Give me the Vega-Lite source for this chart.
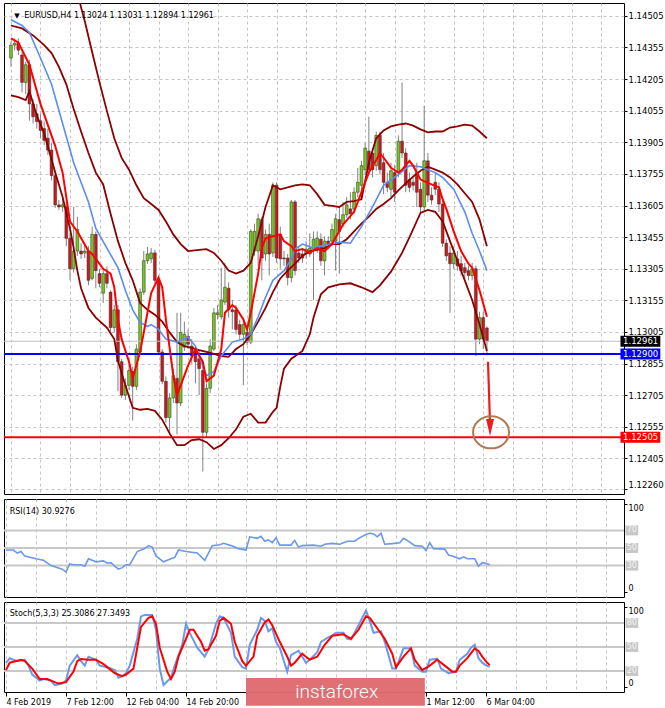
{
  "$schema": "https://vega.github.io/schema/vega-lite/v6.json",
  "background": "#ffffff",
  "padding": {"left": 1, "top": 2, "right": 0, "bottom": 0},
  "spacing": 3,
  "config": {
    "view": {"stroke": "#000000", "strokeWidth": 1},
    "axis": {"labelFont": "DejaVu Sans", "labelFontSize": 8.5, "labelColor": "#000000", "tickColor": "#000000", "domain": false, "gridColor": "#c4c4c4", "gridDash": [3, 3], "gridWidth": 1, "labelOverlap": false},
    "text": {"font": "DejaVu Sans", "fontSize": 8, "color": "#000000"}
  },
  "datasets": {
    "bars": [
      {"i":0,"o":1.14305,"h":1.14384,"l":1.14263,"c":1.14366},
      {"i":1,"o":1.14366,"h":1.14398,"l":1.14342,"c":1.14375},
      {"i":2,"o":1.14375,"h":1.14398,"l":1.14319,"c":1.14342},
      {"i":3,"o":1.14319,"h":1.14333,"l":1.14142,"c":1.14189},
      {"i":4,"o":1.14189,"h":1.14286,"l":1.14133,"c":1.14273},
      {"i":5,"o":1.14273,"h":1.14296,"l":1.14007,"c":1.14087},
      {"i":6,"o":1.14087,"h":1.14110,"l":1.13994,"c":1.14026},
      {"i":7,"o":1.14040,"h":1.14087,"l":1.13970,"c":1.14003},
      {"i":8,"o":1.14007,"h":1.14040,"l":1.13924,"c":1.13961},
      {"i":9,"o":1.13970,"h":1.14003,"l":1.13891,"c":1.13914},
      {"i":10,"o":1.13924,"h":1.13970,"l":1.13845,"c":1.13868},
      {"i":11,"o":1.13868,"h":1.13901,"l":1.13724,"c":1.13747},
      {"i":12,"o":1.13747,"h":1.13761,"l":1.13594,"c":1.13608},
      {"i":13,"o":1.13608,"h":1.13631,"l":1.13584,"c":1.13598},
      {"i":14,"o":1.13598,"h":1.13640,"l":1.13575,"c":1.13608},
      {"i":15,"o":1.13598,"h":1.13622,"l":1.13412,"c":1.13449},
      {"i":16,"o":1.13449,"h":1.13473,"l":1.13250,"c":1.13305},
      {"i":17,"o":1.13305,"h":1.13598,"l":1.13287,"c":1.13389},
      {"i":18,"o":1.13389,"h":1.13552,"l":1.13366,"c":1.13491},
      {"i":19,"o":1.13389,"h":1.13426,"l":1.13352,"c":1.13375},
      {"i":20,"o":1.13380,"h":1.13412,"l":1.13356,"c":1.13389},
      {"i":21,"o":1.13389,"h":1.13412,"l":1.13226,"c":1.13250},
      {"i":22,"o":1.13259,"h":1.13505,"l":1.13250,"c":1.13468},
      {"i":23,"o":1.13468,"h":1.13482,"l":1.13212,"c":1.13296},
      {"i":24,"o":1.13282,"h":1.13305,"l":1.13217,"c":1.13236},
      {"i":25,"o":1.13189,"h":1.13305,"l":1.13143,"c":1.13282},
      {"i":26,"o":1.13282,"h":1.13315,"l":1.13212,"c":1.13236},
      {"i":27,"o":1.13194,"h":1.13203,"l":1.13008,"c":1.13026},
      {"i":28,"o":1.13026,"h":1.13133,"l":1.13003,"c":1.13110},
      {"i":29,"o":1.13110,"h":1.13133,"l":1.12724,"c":1.12864},
      {"i":30,"o":1.12864,"h":1.12878,"l":1.12692,"c":1.12705},
      {"i":31,"o":1.12705,"h":1.12785,"l":1.12682,"c":1.12752},
      {"i":32,"o":1.12752,"h":1.12854,"l":1.12729,"c":1.12822},
      {"i":33,"o":1.12817,"h":1.12840,"l":1.12585,"c":1.12747},
      {"i":34,"o":1.12747,"h":1.12947,"l":1.12729,"c":1.12924},
      {"i":35,"o":1.12910,"h":1.13212,"l":1.12896,"c":1.13194},
      {"i":36,"o":1.13194,"h":1.13389,"l":1.13180,"c":1.13343},
      {"i":37,"o":1.13343,"h":1.13408,"l":1.13329,"c":1.13375},
      {"i":38,"o":1.13352,"h":1.13403,"l":1.13333,"c":1.13380},
      {"i":39,"o":1.13380,"h":1.13394,"l":1.13236,"c":1.13250},
      {"i":40,"o":1.13250,"h":1.13263,"l":1.12896,"c":1.12910},
      {"i":41,"o":1.12910,"h":1.12924,"l":1.12757,"c":1.12771},
      {"i":42,"o":1.12771,"h":1.12794,"l":1.12575,"c":1.12599},
      {"i":43,"o":1.12599,"h":1.12715,"l":1.12519,"c":1.12692},
      {"i":44,"o":1.12692,"h":1.12831,"l":1.12668,"c":1.12798},
      {"i":45,"o":1.12785,"h":1.13096,"l":1.12519,"c":1.12668},
      {"i":46,"o":1.12668,"h":1.13096,"l":1.12654,"c":1.13003},
      {"i":47,"o":1.12933,"h":1.13054,"l":1.12915,"c":1.12994},
      {"i":48,"o":1.12984,"h":1.13017,"l":1.12924,"c":1.12947},
      {"i":49,"o":1.12938,"h":1.12971,"l":1.12854,"c":1.12891},
      {"i":50,"o":1.12910,"h":1.12933,"l":1.12761,"c":1.12864},
      {"i":51,"o":1.12878,"h":1.12915,"l":1.12705,"c":1.12831},
      {"i":52,"o":1.12822,"h":1.12840,"l":1.12343,"c":1.12529},
      {"i":53,"o":1.12529,"h":1.12761,"l":1.12506,"c":1.12738},
      {"i":54,"o":1.12738,"h":1.12971,"l":1.12715,"c":1.12938},
      {"i":55,"o":1.12924,"h":1.13119,"l":1.12915,"c":1.13096},
      {"i":56,"o":1.13087,"h":1.13133,"l":1.13064,"c":1.13096},
      {"i":57,"o":1.13077,"h":1.13310,"l":1.13064,"c":1.13157},
      {"i":58,"o":1.13147,"h":1.13333,"l":1.13133,"c":1.13217},
      {"i":59,"o":1.13212,"h":1.13240,"l":1.13073,"c":1.13110},
      {"i":60,"o":1.13110,"h":1.13157,"l":1.13017,"c":1.13101},
      {"i":61,"o":1.13110,"h":1.13133,"l":1.12994,"c":1.13017},
      {"i":62,"o":1.13040,"h":1.13064,"l":1.12971,"c":1.12994},
      {"i":63,"o":1.12994,"h":1.13073,"l":1.12752,"c":1.13040},
      {"i":64,"o":1.13003,"h":1.13026,"l":1.12943,"c":1.12957},
      {"i":65,"o":1.12957,"h":1.13491,"l":1.12947,"c":1.13482},
      {"i":66,"o":1.13389,"h":1.13519,"l":1.13366,"c":1.13482},
      {"i":67,"o":1.13389,"h":1.13566,"l":1.13319,"c":1.13542},
      {"i":68,"o":1.13538,"h":1.13552,"l":1.13250,"c":1.13356},
      {"i":69,"o":1.13375,"h":1.13491,"l":1.13343,"c":1.13468},
      {"i":70,"o":1.13468,"h":1.13519,"l":1.13273,"c":1.13375},
      {"i":71,"o":1.13380,"h":1.13715,"l":1.13361,"c":1.13701},
      {"i":72,"o":1.13701,"h":1.13715,"l":1.13333,"c":1.13356},
      {"i":73,"o":1.13468,"h":1.13505,"l":1.13305,"c":1.13352},
      {"i":74,"o":1.13356,"h":1.13389,"l":1.13319,"c":1.13352},
      {"i":75,"o":1.13356,"h":1.13375,"l":1.13226,"c":1.13263},
      {"i":76,"o":1.13263,"h":1.13631,"l":1.13240,"c":1.13622},
      {"i":77,"o":1.13622,"h":1.13631,"l":1.13273,"c":1.13296},
      {"i":78,"o":1.13380,"h":1.13412,"l":1.13333,"c":1.13356},
      {"i":79,"o":1.13375,"h":1.13403,"l":1.13333,"c":1.13356},
      {"i":80,"o":1.13375,"h":1.13436,"l":1.13352,"c":1.13398},
      {"i":81,"o":1.13375,"h":1.13473,"l":1.13361,"c":1.13403},
      {"i":82,"o":1.13398,"h":1.13482,"l":1.13157,"c":1.13445},
      {"i":83,"o":1.13403,"h":1.13482,"l":1.13380,"c":1.13449},
      {"i":84,"o":1.13445,"h":1.13473,"l":1.13319,"c":1.13343},
      {"i":85,"o":1.13343,"h":1.13459,"l":1.13273,"c":1.13436},
      {"i":86,"o":1.13436,"h":1.13459,"l":1.13398,"c":1.13422},
      {"i":87,"o":1.13436,"h":1.13519,"l":1.13412,"c":1.13491},
      {"i":88,"o":1.13436,"h":1.13566,"l":1.13296,"c":1.13542},
      {"i":89,"o":1.13538,"h":1.13598,"l":1.13282,"c":1.13482},
      {"i":90,"o":1.13519,"h":1.13622,"l":1.13501,"c":1.13561},
      {"i":91,"o":1.13561,"h":1.13645,"l":1.13547,"c":1.13608},
      {"i":92,"o":1.13589,"h":1.13668,"l":1.13538,"c":1.13566},
      {"i":93,"o":1.13589,"h":1.13691,"l":1.13566,"c":1.13668},
      {"i":94,"o":1.13668,"h":1.13784,"l":1.13645,"c":1.13715},
      {"i":95,"o":1.13701,"h":1.13817,"l":1.13645,"c":1.13794},
      {"i":96,"o":1.13775,"h":1.13901,"l":1.13752,"c":1.13877},
      {"i":97,"o":1.13863,"h":1.14026,"l":1.13752,"c":1.13775},
      {"i":98,"o":1.13854,"h":1.13877,"l":1.13738,"c":1.13775},
      {"i":99,"o":1.13794,"h":1.13956,"l":1.13770,"c":1.13938},
      {"i":100,"o":1.13938,"h":1.13956,"l":1.13752,"c":1.13775},
      {"i":101,"o":1.13808,"h":1.13854,"l":1.13659,"c":1.13715},
      {"i":102,"o":1.13715,"h":1.13761,"l":1.13668,"c":1.13691},
      {"i":103,"o":1.13682,"h":1.13808,"l":1.13645,"c":1.13770},
      {"i":104,"o":1.13761,"h":1.13798,"l":1.13622,"c":1.13668},
      {"i":105,"o":1.13761,"h":1.13938,"l":1.13738,"c":1.13910},
      {"i":106,"o":1.13910,"h":1.14189,"l":1.13831,"c":1.13854},
      {"i":107,"o":1.13854,"h":1.13877,"l":1.13668,"c":1.13701},
      {"i":108,"o":1.13728,"h":1.13761,"l":1.13668,"c":1.13691},
      {"i":109,"o":1.13715,"h":1.13738,"l":1.13677,"c":1.13701},
      {"i":110,"o":1.13761,"h":1.13808,"l":1.13598,"c":1.13668},
      {"i":111,"o":1.13682,"h":1.13715,"l":1.13566,"c":1.13598},
      {"i":112,"o":1.13598,"h":1.14077,"l":1.13575,"c":1.13817},
      {"i":113,"o":1.13817,"h":1.13854,"l":1.13622,"c":1.13654},
      {"i":114,"o":1.13654,"h":1.13691,"l":1.13608,"c":1.13631},
      {"i":115,"o":1.13715,"h":1.13761,"l":1.13654,"c":1.13682},
      {"i":116,"o":1.13682,"h":1.13715,"l":1.13575,"c":1.13612},
      {"i":117,"o":1.13612,"h":1.13631,"l":1.13408,"c":1.13426},
      {"i":118,"o":1.13426,"h":1.13445,"l":1.13343,"c":1.13366},
      {"i":119,"o":1.13380,"h":1.13412,"l":1.13096,"c":1.13329},
      {"i":120,"o":1.13329,"h":1.13412,"l":1.13305,"c":1.13380},
      {"i":121,"o":1.13352,"h":1.13389,"l":1.13296,"c":1.13319},
      {"i":122,"o":1.13329,"h":1.13366,"l":1.13273,"c":1.13296},
      {"i":123,"o":1.13310,"h":1.13333,"l":1.13259,"c":1.13287},
      {"i":124,"o":1.13296,"h":1.13319,"l":1.13250,"c":1.13273},
      {"i":125,"o":1.13273,"h":1.13333,"l":1.13250,"c":1.13305},
      {"i":126,"o":1.13305,"h":1.13319,"l":1.12891,"c":1.12971},
      {"i":127,"o":1.12971,"h":1.13101,"l":1.12947,"c":1.13073},
      {"i":128,"o":1.13073,"h":1.13101,"l":1.12924,"c":1.12971},
      {"i":129,"o":1.13024,"h":1.13031,"l":1.12894,"c":1.12961}
    ],
    "redma": [
      {"i":0,"v":1.14398},{"i":2,"v":1.14379},{"i":5,"v":1.14273},{"i":8,"v":1.14087},{"i":12,"v":1.13887},{"i":14,"v":1.13761},{"i":15,"v":1.13645},{"i":16,"v":1.13529},{"i":18,"v":1.13482},{"i":21,"v":1.13389},{"i":22,"v":1.13375},{"i":25,"v":1.13305},{"i":27,"v":1.13282},{"i":28,"v":1.13217},{"i":29,"v":1.13064},{"i":30,"v":1.12971},{"i":32,"v":1.12864},{"i":33,"v":1.12785},{"i":35,"v":1.12910},{"i":37,"v":1.13096},{"i":38,"v":1.13189},{"i":40,"v":1.13263},{"i":41,"v":1.13217},{"i":42,"v":1.13064},{"i":44,"v":1.12798},{"i":45,"v":1.12705},{"i":46,"v":1.12752},{"i":48,"v":1.12845},{"i":50,"v":1.12924},{"i":52,"v":1.12864},{"i":53,"v":1.12771},{"i":55,"v":1.12798},{"i":57,"v":1.12924},{"i":58,"v":1.13096},{"i":60,"v":1.13133},{"i":61,"v":1.13119},{"i":63,"v":1.13064},{"i":64,"v":1.13017},{"i":65,"v":1.13096},{"i":67,"v":1.13282},{"i":68,"v":1.13403},{"i":69,"v":1.13449},{"i":71,"v":1.13459},{"i":73,"v":1.13468},{"i":74,"v":1.13436},{"i":76,"v":1.13412},{"i":77,"v":1.13389},{"i":79,"v":1.13398},{"i":81,"v":1.13380},{"i":83,"v":1.13403},{"i":85,"v":1.13389},{"i":87,"v":1.13422},{"i":90,"v":1.13515},{"i":93,"v":1.13575},{"i":95,"v":1.13668},{"i":97,"v":1.13761},{"i":99,"v":1.13821},{"i":100,"v":1.13854},{"i":102,"v":1.13808},{"i":103,"v":1.13784},{"i":105,"v":1.13761},{"i":106,"v":1.13775},{"i":108,"v":1.13817},{"i":109,"v":1.13794},{"i":111,"v":1.13728},{"i":114,"v":1.13705},{"i":116,"v":1.13691},{"i":117,"v":1.13635},{"i":118,"v":1.13589},{"i":120,"v":1.13482},{"i":122,"v":1.13389},{"i":124,"v":1.13329},{"i":125,"v":1.13310},{"i":127,"v":1.13203},{"i":129,"v":1.13077}
    ],
    "bluema": [
      {"i":0,"v":1.14486},{"i":3,"v":1.14459},{"i":5,"v":1.14426},{"i":8,"v":1.14305},{"i":11,"v":1.14180},{"i":14,"v":1.13994},{"i":17,"v":1.13808},{"i":21,"v":1.13622},{"i":23,"v":1.13496},{"i":26,"v":1.13403},{"i":29,"v":1.13310},{"i":31,"v":1.13203},{"i":33,"v":1.13110},{"i":35,"v":1.13050},{"i":37,"v":1.13031},{"i":38,"v":1.13040},{"i":40,"v":1.13017},{"i":42,"v":1.12971},{"i":45,"v":1.12957},{"i":48,"v":1.12980},{"i":50,"v":1.12938},{"i":52,"v":1.12845},{"i":53,"v":1.12798},{"i":55,"v":1.12817},{"i":57,"v":1.12891},{"i":60,"v":1.12957},{"i":63,"v":1.12971},{"i":65,"v":1.12994},{"i":67,"v":1.13077},{"i":69,"v":1.13170},{"i":71,"v":1.13250},{"i":74,"v":1.13296},{"i":76,"v":1.13352},{"i":77,"v":1.13398},{"i":79,"v":1.13422},{"i":82,"v":1.13403},{"i":85,"v":1.13417},{"i":89,"v":1.13431},{"i":92,"v":1.13426},{"i":95,"v":1.13505},{"i":98,"v":1.13598},{"i":101,"v":1.13701},{"i":105,"v":1.13752},{"i":108,"v":1.13794},{"i":111,"v":1.13789},{"i":115,"v":1.13761},{"i":117,"v":1.13738},{"i":120,"v":1.13682},{"i":123,"v":1.13575},{"i":125,"v":1.13473},{"i":127,"v":1.13389},{"i":129,"v":1.13296}
    ],
    "bbu": [
      {"i":17,"v":1.14700},{"i":18,"v":1.14620},{"i":19,"v":1.14545},{"i":20,"v":1.14480},{"i":22,"v":1.14333},{"i":24,"v":1.14189},{"i":26,"v":1.14054},{"i":28,"v":1.13924},{"i":30,"v":1.13831},{"i":32,"v":1.13775},{"i":34,"v":1.13701},{"i":36,"v":1.13640},{"i":38,"v":1.13612},{"i":40,"v":1.13584},{"i":42,"v":1.13529},{"i":44,"v":1.13468},{"i":46,"v":1.13422},{"i":48,"v":1.13389},{"i":51,"v":1.13394},{"i":53,"v":1.13398},{"i":55,"v":1.13380},{"i":57,"v":1.13343},{"i":59,"v":1.13296},{"i":61,"v":1.13282},{"i":63,"v":1.13296},{"i":65,"v":1.13333},{"i":67,"v":1.13459},{"i":69,"v":1.13598},{"i":71,"v":1.13701},{"i":73,"v":1.13682},{"i":75,"v":1.13691},{"i":77,"v":1.13701},{"i":79,"v":1.13705},{"i":81,"v":1.13701},{"i":83,"v":1.13659},{"i":85,"v":1.13608},{"i":87,"v":1.13603},{"i":89,"v":1.13598},{"i":91,"v":1.13622},{"i":93,"v":1.13626},{"i":95,"v":1.13635},{"i":97,"v":1.13808},{"i":99,"v":1.13924},{"i":101,"v":1.13961},{"i":103,"v":1.13980},{"i":105,"v":1.13989},{"i":107,"v":1.13994},{"i":109,"v":1.13984},{"i":111,"v":1.13966},{"i":113,"v":1.13952},{"i":115,"v":1.13956},{"i":117,"v":1.13956},{"i":119,"v":1.13975},{"i":121,"v":1.13980},{"i":123,"v":1.13989},{"i":125,"v":1.13984},{"i":127,"v":1.13956},{"i":129,"v":1.13924}
    ],
    "bbm": [
      {"i":0,"v":1.14459},{"i":3,"v":1.14445},{"i":6,"v":1.14412},{"i":9,"v":1.14366},{"i":11,"v":1.14328},{"i":13,"v":1.14263},{"i":15,"v":1.14180},{"i":17,"v":1.14063},{"i":19,"v":1.13956},{"i":21,"v":1.13854},{"i":23,"v":1.13761},{"i":25,"v":1.13705},{"i":27,"v":1.13566},{"i":29,"v":1.13436},{"i":31,"v":1.13333},{"i":33,"v":1.13250},{"i":35,"v":1.13143},{"i":37,"v":1.13110},{"i":39,"v":1.13087},{"i":41,"v":1.13054},{"i":43,"v":1.13003},{"i":45,"v":1.12957},{"i":47,"v":1.12938},{"i":49,"v":1.12929},{"i":51,"v":1.12919},{"i":53,"v":1.12910},{"i":55,"v":1.12901},{"i":57,"v":1.12891},{"i":59,"v":1.12887},{"i":61,"v":1.12924},{"i":63,"v":1.12947},{"i":65,"v":1.12994},{"i":67,"v":1.13054},{"i":69,"v":1.13119},{"i":71,"v":1.13194},{"i":73,"v":1.13259},{"i":75,"v":1.13296},{"i":77,"v":1.13329},{"i":79,"v":1.13366},{"i":81,"v":1.13389},{"i":83,"v":1.13394},{"i":85,"v":1.13403},{"i":87,"v":1.13422},{"i":89,"v":1.13422},{"i":91,"v":1.13445},{"i":93,"v":1.13482},{"i":95,"v":1.13519},{"i":97,"v":1.13552},{"i":99,"v":1.13589},{"i":101,"v":1.13612},{"i":103,"v":1.13640},{"i":105,"v":1.13677},{"i":107,"v":1.13710},{"i":109,"v":1.13742},{"i":111,"v":1.13770},{"i":113,"v":1.13789},{"i":115,"v":1.13775},{"i":117,"v":1.13761},{"i":119,"v":1.13738},{"i":121,"v":1.13705},{"i":123,"v":1.13663},{"i":125,"v":1.13622},{"i":127,"v":1.13538},{"i":129,"v":1.13412}
    ],
    "bbl": [
      {"i":0,"v":1.14128},{"i":2,"v":1.14119},{"i":4,"v":1.14105},{"i":5,"v":1.14147},{"i":7,"v":1.14031},{"i":9,"v":1.13947},{"i":12,"v":1.13761},{"i":14,"v":1.13645},{"i":16,"v":1.13496},{"i":17,"v":1.13403},{"i":18,"v":1.13296},{"i":19,"v":1.13212},{"i":21,"v":1.13119},{"i":23,"v":1.13073},{"i":26,"v":1.13026},{"i":28,"v":1.12971},{"i":29,"v":1.12868},{"i":31,"v":1.12752},{"i":33,"v":1.12645},{"i":35,"v":1.12636},{"i":37,"v":1.12640},{"i":39,"v":1.12631},{"i":41,"v":1.12589},{"i":43,"v":1.12524},{"i":45,"v":1.12468},{"i":47,"v":1.12468},{"i":49,"v":1.12492},{"i":51,"v":1.12496},{"i":53,"v":1.12482},{"i":55,"v":1.12450},{"i":57,"v":1.12468},{"i":59,"v":1.12501},{"i":61,"v":1.12543},{"i":63,"v":1.12603},{"i":65,"v":1.12617},{"i":67,"v":1.12575},{"i":69,"v":1.12575},{"i":71,"v":1.12626},{"i":72,"v":1.12645},{"i":73,"v":1.12747},{"i":74,"v":1.12831},{"i":76,"v":1.12878},{"i":79,"v":1.12915},{"i":81,"v":1.12994},{"i":82,"v":1.13073},{"i":84,"v":1.13184},{"i":86,"v":1.13217},{"i":89,"v":1.13231},{"i":92,"v":1.13236},{"i":95,"v":1.13217},{"i":98,"v":1.13194},{"i":100,"v":1.13226},{"i":103,"v":1.13291},{"i":106,"v":1.13380},{"i":108,"v":1.13454},{"i":111,"v":1.13570},{"i":113,"v":1.13584},{"i":115,"v":1.13575},{"i":117,"v":1.13529},{"i":119,"v":1.13436},{"i":121,"v":1.13343},{"i":123,"v":1.13250},{"i":125,"v":1.13157},{"i":127,"v":1.13040},{"i":129,"v":1.12915}
    ],
    "tags": [
      {"kind":"bid","v":1.12961},
      {"kind":"level","v":1.12900},
      {"kind":"target","v":1.12505}
    ],
    "arrow": [
      {"i":129.3,"v":1.12864},
      {"i":129.8,"v":1.12589}
    ],
    "rsi": [
      {"i":0,"v":47.7},{"i":2,"v":47.7},{"i":3,"v":44.3},{"i":4,"v":46},{"i":5,"v":41},{"i":8,"v":37.7},{"i":10,"v":36},{"i":12,"v":30},{"i":13,"v":28.7},{"i":15,"v":26},{"i":16,"v":22.7},{"i":17,"v":32},{"i":18,"v":31},{"i":20,"v":31},{"i":21,"v":29.3},{"i":22,"v":37.7},{"i":24,"v":34.3},{"i":26,"v":35.3},{"i":27,"v":32.7},{"i":28,"v":33.3},{"i":29,"v":29.3},{"i":30,"v":26},{"i":31,"v":27.7},{"i":32,"v":31},{"i":33,"v":31},{"i":35,"v":46},{"i":37,"v":49.3},{"i":38,"v":52.7},{"i":39,"v":51},{"i":40,"v":41},{"i":42,"v":34.3},{"i":44,"v":37.7},{"i":45,"v":39.3},{"i":46,"v":47.7},{"i":48,"v":46},{"i":51,"v":44.3},{"i":53,"v":36},{"i":55,"v":52.7},{"i":57,"v":53.7},{"i":58,"v":55.3},{"i":60,"v":52.7},{"i":62,"v":49.3},{"i":64,"v":47.7},{"i":65,"v":62.7},{"i":67,"v":61},{"i":68,"v":63.3},{"i":69,"v":57.7},{"i":70,"v":59.3},{"i":71,"v":56},{"i":72,"v":61.7},{"i":73,"v":53.3},{"i":76,"v":53.3},{"i":77,"v":58.7},{"i":78,"v":51},{"i":79,"v":52.7},{"i":82,"v":53.3},{"i":84,"v":52},{"i":85,"v":54.3},{"i":87,"v":55.3},{"i":89,"v":54.3},{"i":91,"v":57.7},{"i":93,"v":57.7},{"i":94,"v":61},{"i":96,"v":65.3},{"i":97,"v":66.7},{"i":98,"v":66},{"i":99,"v":62.7},{"i":100,"v":66.7},{"i":101,"v":54.3},{"i":103,"v":55},{"i":105,"v":56},{"i":106,"v":61},{"i":107,"v":58.7},{"i":109,"v":52.7},{"i":111,"v":52},{"i":112,"v":47},{"i":113,"v":56},{"i":114,"v":49.3},{"i":117,"v":48.7},{"i":118,"v":42},{"i":119,"v":41},{"i":121,"v":37.7},{"i":122,"v":40},{"i":123,"v":37.7},{"i":125,"v":37.7},{"i":126,"v":29.3},{"i":127,"v":33.3},{"i":128,"v":32.5},{"i":129,"v":30.9}
    ],
    "rsilev": [{"v":30},{"v":50},{"v":70}],
    "stolev": [{"v":20},{"v":50},{"v":80}],
    "stk": [
      {"i":0,"v":30},{"i":1,"v":36},{"i":3,"v":32.3},{"i":5,"v":34.1},{"i":6,"v":26.7},{"i":7,"v":15.5},{"i":9,"v":8},{"i":10,"v":9.9},{"i":12,"v":8},{"i":13,"v":2.4},{"i":15,"v":4.3},{"i":16,"v":8},{"i":17,"v":26.7},{"i":19,"v":39.7},{"i":20,"v":32.3},{"i":21,"v":26.7},{"i":22,"v":37.9},{"i":24,"v":34.1},{"i":25,"v":26.7},{"i":27,"v":24.8},{"i":29,"v":21.1},{"i":30,"v":11.7},{"i":31,"v":13.6},{"i":32,"v":17.3},{"i":33,"v":26.7},{"i":35,"v":60.3},{"i":36,"v":88.3},{"i":37,"v":90.1},{"i":39,"v":90.1},{"i":40,"v":71.5},{"i":41,"v":23},{"i":42,"v":2.4},{"i":44,"v":11.7},{"i":45,"v":26.7},{"i":47,"v":52.8},{"i":48,"v":79},{"i":49,"v":67.7},{"i":51,"v":49.1},{"i":53,"v":37.9},{"i":54,"v":47.2},{"i":56,"v":79},{"i":57,"v":88.3},{"i":58,"v":86.4},{"i":60,"v":67.7},{"i":61,"v":37.9},{"i":63,"v":24.8},{"i":64,"v":23},{"i":65,"v":52.8},{"i":67,"v":71.5},{"i":68,"v":86.4},{"i":69,"v":82.7},{"i":70,"v":69.6},{"i":71,"v":73.4},{"i":72,"v":56.5},{"i":73,"v":49.1},{"i":75,"v":19.2},{"i":76,"v":39.7},{"i":78,"v":45.3},{"i":80,"v":30.4},{"i":81,"v":34.1},{"i":83,"v":43.5},{"i":84,"v":56.5},{"i":86,"v":62.2},{"i":87,"v":64},{"i":88,"v":67.7},{"i":90,"v":67.7},{"i":91,"v":60.3},{"i":92,"v":59.5},{"i":94,"v":77.1},{"i":96,"v":95.7},{"i":97,"v":82.7},{"i":98,"v":67.7},{"i":100,"v":69.6},{"i":101,"v":56.5},{"i":103,"v":23},{"i":104,"v":23},{"i":106,"v":48.3},{"i":108,"v":48.3},{"i":109,"v":26.7},{"i":111,"v":19.2},{"i":112,"v":19.2},{"i":113,"v":34.1},{"i":115,"v":35.3},{"i":116,"v":23},{"i":118,"v":17.3},{"i":120,"v":19.2},{"i":121,"v":34.1},{"i":123,"v":41.6},{"i":124,"v":49.1},{"i":125,"v":52.8},{"i":126,"v":36},{"i":127,"v":30.4},{"i":128,"v":27},{"i":129,"v":25.3}
    ],
    "std": [
      {"i":0,"v":21.1},{"i":1,"v":30.4},{"i":4,"v":34.1},{"i":5,"v":32.3},{"i":7,"v":23},{"i":9,"v":9.9},{"i":11,"v":9.9},{"i":12,"v":8},{"i":14,"v":4.3},{"i":16,"v":6.1},{"i":18,"v":19.2},{"i":19,"v":32.3},{"i":20,"v":34.9},{"i":22,"v":34.1},{"i":24,"v":34.1},{"i":26,"v":28.5},{"i":28,"v":21.1},{"i":29,"v":17.3},{"i":31,"v":13.6},{"i":32,"v":15.5},{"i":34,"v":23},{"i":35,"v":49.1},{"i":36,"v":75.2},{"i":38,"v":86.4},{"i":39,"v":88.3},{"i":40,"v":79},{"i":41,"v":49.1},{"i":43,"v":19.2},{"i":44,"v":9.9},{"i":45,"v":19.2},{"i":46,"v":37.9},{"i":48,"v":60.3},{"i":49,"v":71.5},{"i":50,"v":71.5},{"i":52,"v":56.5},{"i":53,"v":45.3},{"i":54,"v":47.2},{"i":56,"v":64},{"i":57,"v":82.7},{"i":58,"v":86.4},{"i":60,"v":79},{"i":61,"v":56.5},{"i":63,"v":32.3},{"i":64,"v":26.7},{"i":66,"v":37.9},{"i":67,"v":64},{"i":69,"v":80.8},{"i":70,"v":84.5},{"i":71,"v":77.1},{"i":73,"v":56.5},{"i":75,"v":37.9},{"i":76,"v":26.7},{"i":77,"v":30.4},{"i":79,"v":41.6},{"i":80,"v":37.9},{"i":81,"v":34.1},{"i":83,"v":37.9},{"i":85,"v":52.8},{"i":87,"v":64},{"i":90,"v":65.9},{"i":92,"v":60.3},{"i":94,"v":71.5},{"i":96,"v":88.3},{"i":97,"v":86.4},{"i":99,"v":73.4},{"i":101,"v":60.3},{"i":103,"v":41.6},{"i":104,"v":24.8},{"i":106,"v":37.9},{"i":108,"v":48.3},{"i":109,"v":34.1},{"i":111,"v":21.1},{"i":113,"v":26.7},{"i":115,"v":34.1},{"i":117,"v":26.7},{"i":119,"v":19.2},{"i":120,"v":19.2},{"i":121,"v":26.7},{"i":123,"v":36},{"i":125,"v":48.3},{"i":126,"v":45},{"i":127,"v":38},{"i":128,"v":32},{"i":129,"v":27.3}
    ]
  },
  "vconcat": [
    {
      "width": 620,
      "height": 491,
      "layer": [
        {
          "data": {"name": "bars"},
          "mark": {"type": "rule", "color": "#808080", "strokeWidth": 1},
          "encoding": {
            "x": {"field": "i", "type": "quantitative", "scale": {"domain": [-0.53, 164.8], "nice": false, "zero": false},
                  "axis": {"values": [0,8,16,24,32,40,48,56,64,72,80,88,96,104,112,120,128,136,144,152,160], "tickCount": 100, "grid": true, "labels": false, "ticks": false, "title": null}},
            "y": {"field": "l", "type": "quantitative", "scale": {"domain": [1.1226, 1.14542], "nice": false, "zero": false},
                  "axis": {"orient": "right", "values": [1.14505,1.14355,1.14205,1.14055,1.13905,1.13755,1.13605,1.13455,1.13305,1.13155,1.13005,1.12855,1.12705,1.12555,1.12405,1.1226], "tickCount": 100, "format": ".5f", "grid": true, "tickSize": 3, "labelPadding": 1, "labelFlush": false, "labelOverlap": false, "title": null,
                           "labelBaseline": {"condition": {"test": "datum.value < 1.1227", "value": "bottom"}, "value": "middle"}}},
            "y2": {"field": "h"}
          }
        },
        {
          "data": {"name": "bars"},
          "mark": {"type": "bar", "size": 2.8, "stroke": "#2a2a2a", "strokeWidth": 0.5},
          "encoding": {
            "x": {"field": "i", "type": "quantitative"},
            "y": {"field": "o", "type": "quantitative"},
            "y2": {"field": "c"},
            "fill": {"condition": {"test": "datum.c >= datum.o", "value": "#76c81c"}, "value": "#d01818"}
          }
        },
        {
          "data": {"values": [{}]},
          "mark": {"type": "rule", "color": "#c0c0c0", "strokeWidth": 1},
          "encoding": {"y": {"datum": 1.12961}}
        },
        {
          "data": {"values": [{}]},
          "mark": {"type": "rule", "color": "#0000ff", "strokeWidth": 2},
          "encoding": {"y": {"datum": 1.129}}
        },
        {
          "data": {"values": [{}]},
          "mark": {"type": "rule", "color": "#ff0000", "strokeWidth": 2},
          "encoding": {"y": {"datum": 1.12505}}
        },
        {
          "data": {"name": "bbu"},
          "mark": {"type": "line", "color": "#8b0000", "strokeWidth": 1.8, "clip": true},
          "encoding": {"x": {"field": "i", "type": "quantitative"}, "y": {"field": "v", "type": "quantitative"}}
        },
        {
          "data": {"name": "bbm"},
          "mark": {"type": "line", "color": "#8b0000", "strokeWidth": 1.8, "clip": true},
          "encoding": {"x": {"field": "i", "type": "quantitative"}, "y": {"field": "v", "type": "quantitative"}}
        },
        {
          "data": {"name": "bbl"},
          "mark": {"type": "line", "color": "#8b0000", "strokeWidth": 1.8, "clip": true},
          "encoding": {"x": {"field": "i", "type": "quantitative"}, "y": {"field": "v", "type": "quantitative"}}
        },
        {
          "data": {"name": "bluema"},
          "mark": {"type": "line", "color": "#5b8def", "strokeWidth": 1.6, "clip": true},
          "encoding": {"x": {"field": "i", "type": "quantitative"}, "y": {"field": "v", "type": "quantitative"}}
        },
        {
          "data": {"name": "redma"},
          "mark": {"type": "line", "color": "#ff0000", "strokeWidth": 2, "clip": true},
          "encoding": {"x": {"field": "i", "type": "quantitative"}, "y": {"field": "v", "type": "quantitative"}}
        },
        {
          "data": {"name": "arrow"},
          "mark": {"type": "line", "color": "#ee1c1c", "strokeWidth": 2.2},
          "encoding": {"x": {"field": "i", "type": "quantitative"}, "y": {"field": "v", "type": "quantitative"}}
        },
        {
          "data": {"values": [{}]},
          "mark": {"type": "point", "shape": "M-0.47,-1L0.47,-1L0,1Z", "size": 289, "filled": true, "opacity": 1, "color": "#ee1c1c"},
          "encoding": {"x": {"datum": 129.85}, "y": {"datum": 1.12552}}
        },
        {
          "data": {"values": [{}]},
          "mark": {"type": "point", "shape": "M-1,0A1,0.89,0,1,0,1,0A1,0.89,0,1,0,-1,0Z", "size": 1296, "filled": false, "opacity": 1, "color": "#b5784e", "strokeWidth": 2},
          "encoding": {"x": {"datum": 130.13}, "y": {"datum": 1.12529}}
        },
        {
          "data": {"name": "tags"},
          "mark": {"type": "bar", "orient": "horizontal", "size": 11},
          "encoding": {
            "x": {"datum": 165.2},
            "x2": {"datum": 176},
            "y": {"field": "v", "type": "quantitative"},
            "color": {"field": "kind", "type": "nominal", "scale": {"domain": ["bid", "level", "target"], "range": ["#000000", "#0000ff", "#ff0000"]}, "legend": null}
          }
        },
        {
          "data": {"name": "tags"},
          "mark": {"type": "text", "align": "left", "baseline": "middle", "color": "#ffffff", "fontSize": 8.5},
          "encoding": {
            "x": {"datum": 165.9},
            "y": {"field": "v", "type": "quantitative"},
            "text": {"field": "v", "type": "quantitative", "format": ".5f"}
          }
        },
        {
          "data": {"values": [{}]},
          "mark": {"type": "text", "align": "center", "baseline": "middle", "fontSize": 7},
          "encoding": {"x": {"datum": 1.6}, "y": {"datum": 1.14505}, "text": {"value": "▼"}}
        },
        {
          "data": {"values": [{}]},
          "mark": {"type": "text", "align": "left", "baseline": "middle", "fontSize": 8},
          "encoding": {"x": {"datum": 3.6}, "y": {"datum": 1.14505}, "text": {"value": "EURUSD,H4  1.13024 1.13031 1.12894 1.12961"}}
        }
      ]
    },
    {
      "width": 620,
      "height": 98,
      "layer": [
        {
          "data": {"name": "rsilev"},
          "mark": {"type": "rule", "color": "#c8c8c8", "strokeWidth": 2},
          "encoding": {
            "y": {"field": "v", "type": "quantitative", "scale": {"domain": [0, 100], "nice": false},
                  "axis": {"orient": "right", "values": [0, 100], "tickCount": 10, "grid": false, "tickSize": 3, "labelPadding": 1, "labelFlush": false, "labelOverlap": false, "title": null, "labelFontSize": 8,
                           "labelBaseline": {"condition": {"test": "datum.value > 50", "value": "top"}, "value": "bottom"}}}
          }
        },
        {
          "data": {"name": "rsilev"},
          "mark": {"type": "bar", "orient": "horizontal", "size": 10, "color": "#c8c8c8"},
          "encoding": {"x": {"datum": 165.2}, "x2": {"datum": 168.6}, "y": {"field": "v", "type": "quantitative"}}
        },
        {
          "data": {"name": "rsilev"},
          "mark": {"type": "text", "align": "left", "baseline": "middle", "color": "#f4f4f4", "fontSize": 8},
          "encoding": {"x": {"datum": 165.5}, "y": {"field": "v", "type": "quantitative"}, "text": {"field": "v", "type": "quantitative"}}
        },
        {
          "data": {"name": "rsi"},
          "mark": {"type": "line", "color": "#6a98ea", "strokeWidth": 1.6},
          "encoding": {
            "x": {"field": "i", "type": "quantitative", "scale": {"domain": [-0.53, 164.8], "nice": false, "zero": false},
                  "axis": {"values": [0,8,16,24,32,40,48,56,64,72,80,88,96,104,112,120,128,136,144,152,160], "tickCount": 100, "grid": true, "labels": false, "ticks": false, "title": null}},
            "y": {"field": "v", "type": "quantitative"}
          }
        },
        {
          "data": {"values": [{}]},
          "mark": {"type": "text", "align": "left", "baseline": "middle", "fontSize": 8},
          "encoding": {"x": {"datum": 1.0}, "y": {"datum": 91}, "text": {"value": "RSI(14) 30.9276"}}
        }
      ]
    },
    {
      "width": 620,
      "height": 90,
      "layer": [
        {
          "data": {"name": "stolev"},
          "mark": {"type": "rule", "color": "#c8c8c8", "strokeWidth": 2},
          "encoding": {
            "y": {"field": "v", "type": "quantitative", "scale": {"domain": [0, 100], "nice": false},
                  "axis": {"orient": "right", "values": [0, 100], "tickCount": 10, "grid": false, "tickSize": 3, "labelPadding": 1, "labelFlush": false, "labelOverlap": false, "title": null, "labelFontSize": 8,
                           "labelBaseline": {"condition": {"test": "datum.value > 50", "value": "top"}, "value": "bottom"}}}
          }
        },
        {
          "data": {"name": "stolev"},
          "mark": {"type": "bar", "orient": "horizontal", "size": 10, "color": "#c8c8c8"},
          "encoding": {"x": {"datum": 165.2}, "x2": {"datum": 168.6}, "y": {"field": "v", "type": "quantitative"}}
        },
        {
          "data": {"name": "stolev"},
          "mark": {"type": "text", "align": "left", "baseline": "middle", "color": "#f4f4f4", "fontSize": 8},
          "encoding": {"x": {"datum": 165.5}, "y": {"field": "v", "type": "quantitative"}, "text": {"field": "v", "type": "quantitative"}}
        },
        {
          "data": {"name": "stk"},
          "mark": {"type": "line", "color": "#6a98ea", "strokeWidth": 2},
          "encoding": {
            "x": {"field": "i", "type": "quantitative", "scale": {"domain": [-0.53, 164.8], "nice": false, "zero": false},
                  "axis": {"values": [0,8,16,24,32,40,48,56,64,72,80,88,96,104,112,120,128,136,144,152,160], "tickCount": 100, "grid": true, "title": null, "labelOverlap": false,
                           "labelExpr": "['4 Feb 2019','','7 Feb 12:00','','12 Feb 04:00','','14 Feb 20:00','','','','','','','','1 Mar 12:00','','6 Mar 04:00','','','',''][datum.value / 8]",
                           "labelAlign": "left", "labelBaseline": "top", "labelPadding": 2, "labelFontSize": 8, "labelBound": false, "labelFlush": false, "tickSize": 4,
                           "tickOpacity": {"condition": {"test": "datum.value % 16 == 0 && datum.value <= 128", "value": 1}, "value": 0}}},
            "y": {"field": "v", "type": "quantitative"}
          }
        },
        {
          "data": {"name": "std"},
          "mark": {"type": "line", "color": "#ff0000", "strokeWidth": 2},
          "encoding": {"x": {"field": "i", "type": "quantitative"}, "y": {"field": "v", "type": "quantitative"}}
        },
        {
          "data": {"values": [{}]},
          "mark": {"type": "text", "align": "left", "baseline": "middle", "fontSize": 8},
          "encoding": {"x": {"datum": 1.0}, "y": {"datum": 91}, "text": {"value": "Stoch(5,3,3) 25.3086 27.3493"}}
        },
        {
          "data": {"values": [{}]},
          "mark": {"type": "rect", "color": "#e06a6e", "opacity": 0.96},
          "encoding": {"x": {"datum": 64.0}, "x2": {"datum": 111.7}, "y": {"datum": 11.4}, "y2": {"datum": -23.5}}
        },
        {
          "data": {"values": [{}]},
          "mark": {"type": "text", "align": "center", "baseline": "middle", "font": "Roboto", "fontSize": 19, "fontWeight": 300, "color": "#ffffff"},
          "encoding": {"x": {"datum": 88.2}, "y": {"datum": -6}, "text": {"value": "instaforex"}}
        }
      ]
    }
  ]
}
